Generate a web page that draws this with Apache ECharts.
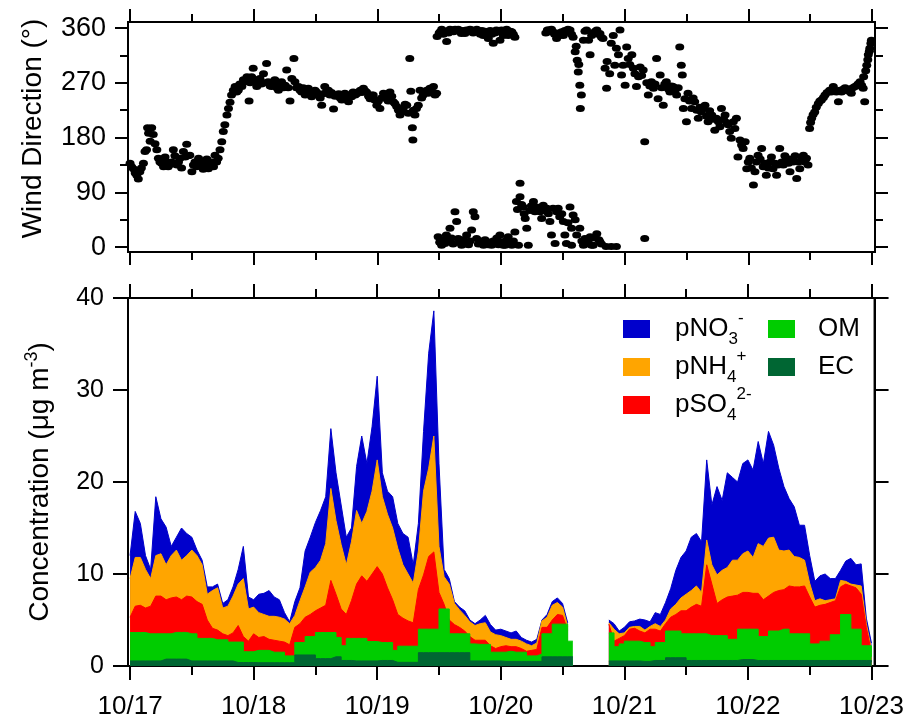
<!DOCTYPE html>
<html><head><meta charset="utf-8">
<script src="https://cdn.jsdelivr.net/npm/echarts@6/dist/echarts.min.js"></script>
<style>html,body{margin:0;padding:0;background:#fff}#c{width:907px;height:721px}</style>
</head><body><div id="c"></div>
<script>
// ---------- data ----------
const dayLabels = ['10/17','10/18','10/19','10/20','10/21','10/22','10/23'];
const dayTicks = [0,24,48,72,96,120,144];          // hours since 10/17 00:00
const halfDayTicks = [12,36,60,84,108,132];
const windTicks = [0,90,180,270,360];
const windMinorTicks = [45,135,225,315];
const concTicks = [0,10,20,30,40];

// hourly values, index = hours since 10/17 00:00 (null = no data)
const ec = [
0.55,0.55,0.55,0.55,0.55,0.55,0.75,0.75,0.75,0.75,0.75,0.55,
0.55,0.55,0.55,0.55,0.55,0.55,0.55,0.55,0.38,0.38,0.38,0.38,
0.36,0.36,0.36,0.36,0.36,0.36,0.36,0.36,1.2,1.2,1.2,1.2,
0.8,0.8,0.8,1.0,1.0,0.6,0.6,0.55,0.55,0.55,0.55,0.55,
0.6,0.6,0.6,0.4,0.4,0.4,0.4,0.4,1.45,1.45,1.45,1.45,
1.45,1.45,1.45,1.45,1.45,1.45,0.55,0.55,0.55,0.55,0.55,0.55,
0.5,0.5,0.5,0.5,0.5,0.5,0.5,0.5,1.0,1.0,1.0,1.0,
1.0,1.0,null,null,null,null,null,null,null,0.55,0.55,0.55,
0.55,0.55,0.55,0.5,0.5,0.6,0.6,0.6,0.9,0.9,0.9,0.9,
0.6,0.6,0.6,0.6,0.6,0.6,0.6,0.6,0.6,0.6,0.7,0.7,
0.7,0.6,0.6,0.6,0.6,0.6,0.6,0.6,0.6,0.6,0.6,0.6,
0.6,0.6,0.6,0.6,0.6,0.6,0.6,0.6,0.6,0.6,0.6,0.6,
0.4];
const om = [
3.09,3.09,3.09,2.95,2.95,2.95,2.75,2.75,2.9,2.9,2.9,2.95,
2.95,2.45,2.45,2.45,2.3,2.3,2.3,2.05,2.22,2.22,1.17,1.17,
1.34,1.34,1.34,1.14,1.14,1.14,0.74,0.74,1.35,1.35,2.0,2.0,
2.84,2.84,2.84,2.64,2.1,1.6,2.4,2.45,2.45,2.45,2.11,2.11,
1.95,1.95,1.95,1.3,1.75,1.75,1.75,1.75,2.55,2.55,2.55,2.55,
4.75,4.75,2.05,2.05,2.05,2.05,1.85,1.8,1.8,1.8,0.95,0.95,
1.0,1.1,1.0,1.0,1.0,0.6,0.6,0.8,2.5,2.5,3.55,3.55,
3.55,1.7,null,null,null,null,null,null,null,3.05,1.55,1.85,
2.15,2.15,2.15,2.05,2.05,1.5,1.95,1.95,2.9,2.9,2.9,2.6,
2.9,2.9,2.9,2.9,2.7,2.7,2.7,2.7,2.3,2.3,3.3,3.3,
3.3,3.4,2.6,2.6,3.2,3.2,3.4,3.4,2.9,2.9,2.9,2.9,
1.8,1.8,2.1,2.1,2.8,2.8,5.0,5.0,3.4,3.4,1.6,1.6,
0.6];
const so4 = [
1.66,2.86,2.96,2.8,3.0,4.1,4.1,3.7,3.75,3.85,3.55,4.1,
4.0,4.0,3.7,2.0,1.25,1.05,0.65,0.7,1.0,1.8,1.65,1.15,
1.8,1.4,1.5,1.4,1.3,1.2,1.5,1.2,1.65,2.05,2.1,2.4,
2.36,2.66,2.96,5.66,4.7,4.0,2.6,4.1,5.9,6.8,6.54,7.34,
8.25,7.45,5.95,5.5,3.45,3.05,2.75,2.55,4.3,5.9,7.9,8.4,
1.8,0.5,1.5,1.0,0.7,0.3,0.8,0.45,0.45,0.45,0.7,0.4,
0.6,0.6,0.6,0.6,0.4,0.5,0.6,0.5,0.7,0.7,0.45,1.05,
0.95,1.2,null,null,null,null,null,null,null,0.95,0.6,0.6,
0.6,1.3,1.4,1.25,1.05,1.9,1.45,1.25,0.8,1.5,1.8,2.5,
2.5,2.9,3.2,3.0,7.7,5.6,3.5,3.9,4.6,4.7,3.7,4.0,
4.0,3.9,4.7,4.0,3.8,4.2,4.2,4.3,5.2,5.1,5.1,5.2,
5.1,4.0,3.9,4.0,3.5,3.7,3.0,3.3,4.7,4.5,5.6,2.0,
0.5];
const nh4 = [
4.2,5.3,5.2,4.2,3.0,4.4,4.6,3.8,4.6,5.1,4.3,4.4,
5.1,5.0,4.3,2.8,4.1,4.6,2.8,3.2,4.0,4.5,6.3,3.5,
2.9,2.7,2.4,2.5,2.6,2.6,2.5,2.3,1.3,2.5,3.3,4.6,
4.7,5.2,6.7,10.0,8.0,7.0,5.4,6.4,8.0,5.7,7.6,9.0,
11.6,8.4,8.0,7.8,7.2,5.8,5.1,4.3,4.2,9.1,9.6,12.6,
5.0,3.0,3.9,2.3,1.9,1.7,1.6,1.6,1.8,1.9,1.5,1.5,
1.2,0.9,0.8,0.8,0.8,0.8,0.5,0.7,0.7,1.1,1.6,1.3,
0.9,0.4,null,null,null,null,null,null,null,0.15,1.3,0.5,
0.3,0.2,0.2,0.5,0.3,0.3,0.6,0.5,0.4,0.9,1.1,1.4,
1.8,1.8,2.0,1.5,2.7,2.1,3.1,3.2,3.2,3.9,3.8,4.2,
4.5,3.9,5.4,5.8,6.3,6.0,4.4,4.2,3.9,3.3,3.2,2.8,
1.5,0.7,0.7,0.4,0.3,0.2,0.7,0.3,0.2,0.3,0.9,0.4,
0.3];
const no3 = [
2.5,5.0,3.7,1.5,1.0,6.4,3.8,4.1,1.0,1.4,3.5,2.4,
1.4,0.6,0.5,0.8,0.4,0.4,0.5,0.7,1.0,1.6,3.5,1.3,
0.8,2.0,2.3,2.8,2.1,1.9,0.7,0.2,1.5,1.4,3.9,3.8,
4.9,5.4,5.1,6.5,5.2,4.3,3.0,1.5,4.8,9.5,5.2,7.0,
9.1,2.6,2.5,3.4,2.7,3.4,4.0,2.0,3.0,6.5,12.5,13.6,
9.0,0.8,0.6,0.2,0.3,0.5,0.2,0.2,0.4,0.8,0.8,0.5,
0.7,0.7,0.7,0.9,0.4,0.4,0.4,0.4,0.1,0.3,0.4,0.5,
0.4,0.4,null,null,null,null,null,null,null,0.3,0.6,0.3,
0.6,0.6,0.6,0.8,1.1,0.5,1.2,1.3,1.9,2.2,3.7,4.4,
4.7,5.8,5.7,5.5,8.7,6.5,9.6,7.6,10.3,9.0,8.5,9.8,
9.9,9.5,11.1,9.0,11.6,10.0,8.9,7.0,5.6,5.4,3.5,3.8,
3.0,2.1,2.5,2.9,2.3,2.2,1.1,2.2,2.8,2.2,2.4,0.6,
0.7];

// wind direction: [hours since 10/17 00:00, degrees]
const windData = [
[0,138],[0.3,132],[0.65,129],[1.0,122],[1.3,118],[1.6,112],[1.9,124],[2.2,130],[2.6,138],[2.9,157],
[3.2,160],[3.4,196],[3.6,187],[3.9,174],[4.2,196],[4.5,185],[4.85,170],[5.2,160],
[5.5,146],[5.8,140],[6.1,138],[6.5,132],[6.8,148],[7.1,140],[7.4,132],[7.8,136],[8.1,140],[8.4,160],[8.7,150],
[9.1,135],[9.4,140],[9.7,146],[10.0,130],[10.35,157],[10.7,148],[11.0,169],[11.3,150],[11.6,151],[12.0,124],
[12.3,135],[12.6,140],[12.9,132],[13.3,146],[13.6,140],[13.9,135],[14.2,128],[14.55,138],[14.9,145],[15.2,129],
[15.5,135],[15.85,140],[16.2,132],[16.5,151],[16.8,140],[17.1,146],[17.46,160],
[17.8,173],[18.1,190],[18.4,201],[18.8,217],[19.1,228],[19.4,238],[19.7,250],[20.05,258],[20.4,264],
[20.7,255],[21.0,258],[21.3,268],[21.7,264],[22.0,275],[22.3,272],[22.7,280],[23.1,240],[23.3,270],[23.6,280],
[23.9,294],[24.2,275],[24.6,264],[24.9,270],[25.2,277],[25.5,268],[25.9,285],[26.2,270],[26.5,302],[26.8,272],
[27.2,265],[27.5,264],[27.8,270],[28.1,275],[28.5,262],[28.8,258],[29.1,268],[29.4,272],[29.8,262],[30.1,266],
[30.4,291],[30.7,262],[31.05,240],[31.4,277],[31.8,310],
[32.0,272],[32.3,262],[32.7,264],[33.0,258],[33.3,255],[33.6,262],[34.0,250],[34.3,256],[34.6,261],[34.9,252],
[35.25,247],[35.6,254],[35.9,258],[36.2,255],[36.6,250],[36.9,245],[37.2,233],[37.5,252],[37.8,264],[38.2,258],
[38.5,258],[38.8,250],[39.1,254],[39.5,227],[39.8,248],[40.1,250],[40.5,252],[40.8,245],[41.1,242],[41.4,248],
[41.7,253],[42.0,246],[42.4,239],[42.7,250],[43.0,247],[43.3,255],[43.7,250],[44.0,252],[44.3,255],[44.7,258],
[45.0,254],[45.3,261],[45.6,257],[45.9,255],[46.3,248],[46.6,244],[46.9,250],[47.2,250],[47.5,242],[47.9,233],
[48.2,240],[48.5,228],
[48.8,245],[49.2,253],[49.5,250],[49.8,244],[50.1,240],[50.45,255],[50.8,248],[51.1,239],[51.4,236],[51.75,231],
[52.1,225],[52.4,217],[52.7,222],[53.0,228],[53.4,235],[53.7,233],[54.0,220],[54.3,310],[54.5,256],[54.8,196],
[54.9,176],[55.0,225],[55.3,217],[55.6,228],[55.95,233],[56.3,258],[56.6,245],[56.9,250],[57.2,255],[57.6,258],
[57.9,253],[58.2,261],[58.5,258],[58.9,264],[59.2,250],[59.5,253],
[59.6,346],[60.0,352],[60.2,354],[60.5,358],[60.8,350],[61.1,355],[61.45,338],[61.8,352],[62.1,358],[62.42,357],
[62.8,354],[63.1,358],[63.4,356],[63.71,358],[64.0,355],[64.3,351],[64.6,356],[65.0,351],[65.3,357],[65.7,354],
[66.0,358],[66.3,357],[66.6,352],[67.0,355],[67.3,358],[67.6,354],[68.0,350],[68.3,356],[68.56,348],[68.9,355],
[69.2,352],[69.53,343],[69.9,356],[70.2,350],[70.5,335],[70.8,352],[71.1,357],[71.47,354],[71.8,340],[72.1,357],
[72.45,348],[72.8,352],[73.1,358],[73.4,348],[73.8,355],[74.1,354],[74.4,350],[74.7,345],
[59.8,17],[60.1,8],[60.48,3],[60.8,12],[61.13,6],[61.4,20],[61.7,10],[62.1,31],[62.4,15],[62.7,5],
[63.07,58],[63.39,42],[63.71,14],[64.0,8],[64.36,3],[64.7,12],[65.0,6],[65.33,20],[65.7,4],[66.0,10],
[66.3,28],[66.62,58],[66.95,50],[67.27,14],[67.6,5],[67.9,10],[68.24,6],[68.6,3],[68.9,12],[69.21,9],
[69.5,4],[69.8,8],[70.18,3],[70.5,10],[70.83,6],[71.2,15],[71.5,4],[71.8,20],[72.1,9],[72.45,3],
[72.8,3],[73.1,12],[73.4,17],[73.8,5],[74.1,3],[74.4,10],[74.7,25],
[75.0,75],[75.2,62],[75.4,3],[75.7,83],[75.7,105],[76.0,70],[76.3,66],[76.5,55],[76.7,47],[77.0,31],
[77.3,3],[77.6,60],[77.9,68],[78.3,75],[78.6,58],[78.9,66],[79.2,62],[79.6,58],[79.9,47],[80.2,69],
[80.5,60],[80.9,64],[81.2,55],[81.5,42],[81.8,20],[82.1,64],[82.5,6],[82.8,58],[83.1,64],[83.4,50],
[83.8,55],[84.1,42],[84.4,20],[84.7,6],[85.0,40],[85.4,66],[85.7,31],[85.7,3],[86.0,53],[86.4,45],[86.7,20],
[87.3,31],[87.7,10],[88.0,3],[88.3,14],[88.6,5],[89.0,12],[89.3,17],[89.6,3],[89.9,3],[90.3,15],
[90.6,22],[91.0,12],[91.2,9],[91.5,5],[92.4,1],[93.4,1],[94.4,1],[99.9,14],
[80.7,352],[81.0,357],[81.2,357],[81.5,354],[81.8,358],[82.1,354],[82.4,350],[82.8,343],[83.1,352],[83.4,348],
[83.8,354],[84.1,348],[84.4,356],[84.7,354],[85.0,358],[85.4,357],[85.7,350],[86.0,345],[86.4,321],[86.6,330],
[86.8,307],[87.0,288],[87.1,300],[87.3,266],[87.4,228],[87.6,250],[88.0,340],[88.3,355],[88.6,357],[89.0,340],
[89.3,316],[89.6,348],[89.9,352],[90.3,355],[90.6,357],[90.9,350],[91.2,351],[91.5,345],[91.8,343],[92.2,294],
[92.5,261],[92.6,305],[93.1,285],[93.4,335],[93.8,348],[94.1,299],[94.4,327],[94.8,316],[95.1,357],[95.4,283],
[95.7,299],[96.1,266],[96.4,329],[96.7,310],[97.0,300],[97.4,316],[97.7,294],[98.0,285],[98.3,264],[98.7,280],
[99.0,296],[99.3,282],[99.6,291],[99.9,173],
[100.3,270],[100.6,250],[100.9,265],[101.2,272],[101.6,261],[101.9,268],[102.2,310],[102.5,244],[102.9,283],[103.2,262],
[103.5,233],[103.8,268],[104.1,272],[104.5,260],[104.8,255],[105.1,265],[105.4,264],[105.8,258],[106.1,250],[106.4,262],
[106.7,329],[107.0,299],[107.2,283],[107.4,228],[107.7,244],[108.0,206],[108.3,253],[108.6,240],
[109.0,228],[109.3,245],[109.6,239],[110.0,225],[110.3,212],[110.6,230],[110.9,222],[111.2,228],[111.6,233],[111.9,215],
[112.2,206],[112.5,224],[112.9,217],[113.2,210],[113.5,192],[113.8,212],[114.2,206],[114.5,198],[114.8,228],[115.2,210],
[115.5,217],[115.8,205],[116.1,201],[116.4,190],[116.7,179],[117.1,206],[117.4,195],[117.7,212],[118.0,148],[118.4,176],
[118.7,168],[119.0,162],[119.4,173],[119.7,129],[120.0,140],[120.3,146],[120.6,130],[121.0,102],[121.3,124],[121.6,140],
[121.9,151],[122.3,145],[122.6,162],[122.9,132],[123.2,138],[123.5,118],[123.9,130],[124.2,140],[124.5,148],[124.8,129],
[125.2,138],[125.5,118],[125.8,135],[126.1,162],[126.5,140],[126.8,135],[127.1,150],[127.4,146],[127.8,138],[128.1,124],
[128.4,145],[128.7,140],[129.1,150],[129.4,113],[129.7,140],[130.0,129],[130.4,148],[130.7,151],[131.0,140],[131.3,146],
[131.6,135],[131.9,195],[132.1,205],[132.3,212],[132.6,218],[132.9,222],[133.2,230],[133.6,236],[133.9,240],[134.2,242],
[134.6,246],[134.9,250],[135.3,254],[135.8,258],[136.1,255],[136.5,264],[136.8,258],[137.1,255],[137.5,239],[137.8,258],
[138.1,255],[138.5,260],[138.8,262],[139.1,258],[139.5,256],[139.8,260],[140.0,253],[140.3,262],[140.7,264],[141.0,265],
[141.3,268],[141.7,272],[142.0,266],[142.3,261],[142.4,280],[142.6,239],[142.8,290],[143.0,299],[143.2,308],[143.3,316],
[143.5,322],[143.6,327],[143.8,335],[143.9,340]
];

// ---------- chart ----------
const F = '"Liberation Sans", Arial, Helvetica, sans-serif';
const COL = { 'pNO3-':'#0000CC', 'pNH4+':'#FFA500', 'pSO42-':'#FF0000', 'OM':'#00CC00', 'EC':'#006633' };
const legendText = {
  'pNO3-':'{g|}pNO{sub|3}{sup|-}',
  'pNH4+':'{g|}pNH{sub|4}{sup|+}',
  'pSO42-':'{g|}pSO{sub|4}{sup|2-}',
  'OM':'{h|}OM', 'EC':'{h|}EC'
};
const hours = ec.map((_, i) => i);
const line = { color:'#000', width:2 };

// cumulative layer tops (stack order bottom->top: EC, OM, SO4, NH4, NO3)
function cum(arrs) {
  return hours.map((h, i) => {
    if (arrs.some(a => a[i] === null)) return [h, null];
    return [h, arrs.reduce((s, a) => s + a[i], 0)];
  });
}

function xAx(grid, pos, ticks, len, labels) {
  return {
    type:'value', gridIndex:grid, position:pos, min:-0.4, max:144.6,
    axisLine:{ show:true, onZero:false, lineStyle:line },
    axisTick:{ show:true, inside:false, length:len, lineStyle:line, customValues:ticks },
    axisLabel:{ show:!!labels, customValues:ticks, margin:28, fontSize:26, color:'#000', fontFamily:F,
      formatter: v => dayLabels[Math.round(v/24)] },
    splitLine:{ show:false }
  };
}
function yAx(grid, pos, min, max, ticks, len, lab, extra) {
  return Object.assign({
    type:'value', gridIndex:grid, position:pos, min:min, max:max,
    axisLine:{ show:true, onZero:false, lineStyle:line },
    axisTick:{ show:true, inside:false, length:len, lineStyle:line, customValues:ticks },
    axisLabel:{ show:!!lab, customValues:ticks, margin:lab ? lab.margin : 8, fontSize:lab ? lab.size : 12,
      color:'#000', fontFamily:F },
    splitLine:{ show:false }
  }, extra || {});
}

// drawn top-most layer first; each area fills down to 0 and later layers cover it
const layerDefs = [
  ['pNO3-',  [ec, om, so4, nh4, no3], false],
  ['pNH4+',  [ec, om, so4, nh4], false],
  ['pSO42-', [ec, om, so4], false],
  ['OM',     [ec, om], 'end'],
  ['EC',     [ec], 'end']
];
const areaSeries = layerDefs.map(([name, arrs, step], k) => ({
  name, type:'line', xAxisIndex:4, yAxisIndex:4, z:2 + k, step:step,
  data: cum(arrs), showSymbol:false, symbol:'none', connectNulls:false,
  lineStyle:{ width:1, color:COL[name] }, itemStyle:{ color:COL[name] },
  areaStyle:{ color:COL[name], opacity:1, origin:'start' }, emphasis:{ disabled:true }, silent:true
}));

const legendStyle = (gapKey, gapW) => ({
  fontSize:26, lineHeight:38, color:'#000', fontFamily:F,
  rich:{
    [gapKey]:{ width:gapW, fontSize:26, lineHeight:38 },
    sub:{ fontSize:17, lineHeight:17, verticalAlign:'bottom', color:'#000', fontFamily:F },
    sup:{ fontSize:17, lineHeight:17, verticalAlign:'top', color:'#000', fontFamily:F }
  }
});

const option = {
  animation:false,
  backgroundColor:'#fff',
  grid:[
    { left:128, top:22, width:747, height:230, show:true, borderColor:'#000', borderWidth:2, backgroundColor:'transparent' },
    { left:128, top:298, width:747, height:368, show:true, borderColor:'#000', borderWidth:2, backgroundColor:'transparent' }
  ],
  xAxis:[
    xAx(0,'bottom',dayTicks,13,false),
    xAx(0,'bottom',halfDayTicks,8,false),
    xAx(0,'top',dayTicks,13,false),
    xAx(0,'top',halfDayTicks,8,false),
    xAx(1,'bottom',dayTicks,14,true),
    xAx(1,'bottom',halfDayTicks,9,false),
    xAx(1,'top',dayTicks,14,false),
    xAx(1,'top',halfDayTicks,9,false)
  ],
  yAxis:[
    yAx(0,'left',-8,370,windTicks,13,{margin:22,size:27},{
      name:'Wind Direction (°)', nameLocation:'middle', nameGap:71, nameRotate:90,
      nameTextStyle:{ fontSize:28, lineHeight:34, color:'#000', fontFamily:F, padding:[0,0,0,17] }
    }),
    yAx(0,'left',-8,370,windMinorTicks,8,null),
    yAx(0,'right',-8,370,windTicks,13,null),
    yAx(0,'right',-8,370,windMinorTicks,8,null),
    yAx(1,'left',0,40,concTicks,15,{margin:24,size:25},{
      name:'Concentration (μg m{sup|-3})', nameLocation:'middle', nameGap:71, nameRotate:90,
      nameTextStyle:{ fontSize:28, lineHeight:34, color:'#000', fontFamily:F,
        rich:{ sup:{ fontSize:18, lineHeight:18, verticalAlign:'top', color:'#000', fontFamily:F } } }
    }),
    yAx(1,'right',0,40,concTicks,14,null)
  ],
  legend:[
    { data:['pNO3-','pNH4+','pSO42-'], left:623, top:310, orient:'vertical', padding:0,
      itemWidth:27, itemHeight:18, itemGap:0, icon:'rect', selectedMode:false,
      formatter: n => legendText[n], textStyle: legendStyle('g', 20) },
    { data:['OM','EC'], left:768, top:310, orient:'vertical', padding:0,
      itemWidth:27, itemHeight:18, itemGap:0, icon:'rect', selectedMode:false,
      formatter: n => legendText[n], textStyle: legendStyle('h', 18) }
  ],
  series:[
    { name:'Wind Direction', type:'scatter', xAxisIndex:0, yAxisIndex:0, data:windData,
      symbol:'circle', symbolSize:[9,7], itemStyle:{ color:'#000', opacity:1 }, silent:true, emphasis:{ disabled:true } }
  ].concat(areaSeries)
};

const chart = echarts.init(document.getElementById('c'), null, { renderer:'canvas' });
chart.setOption(option);
</script>
</body></html>
